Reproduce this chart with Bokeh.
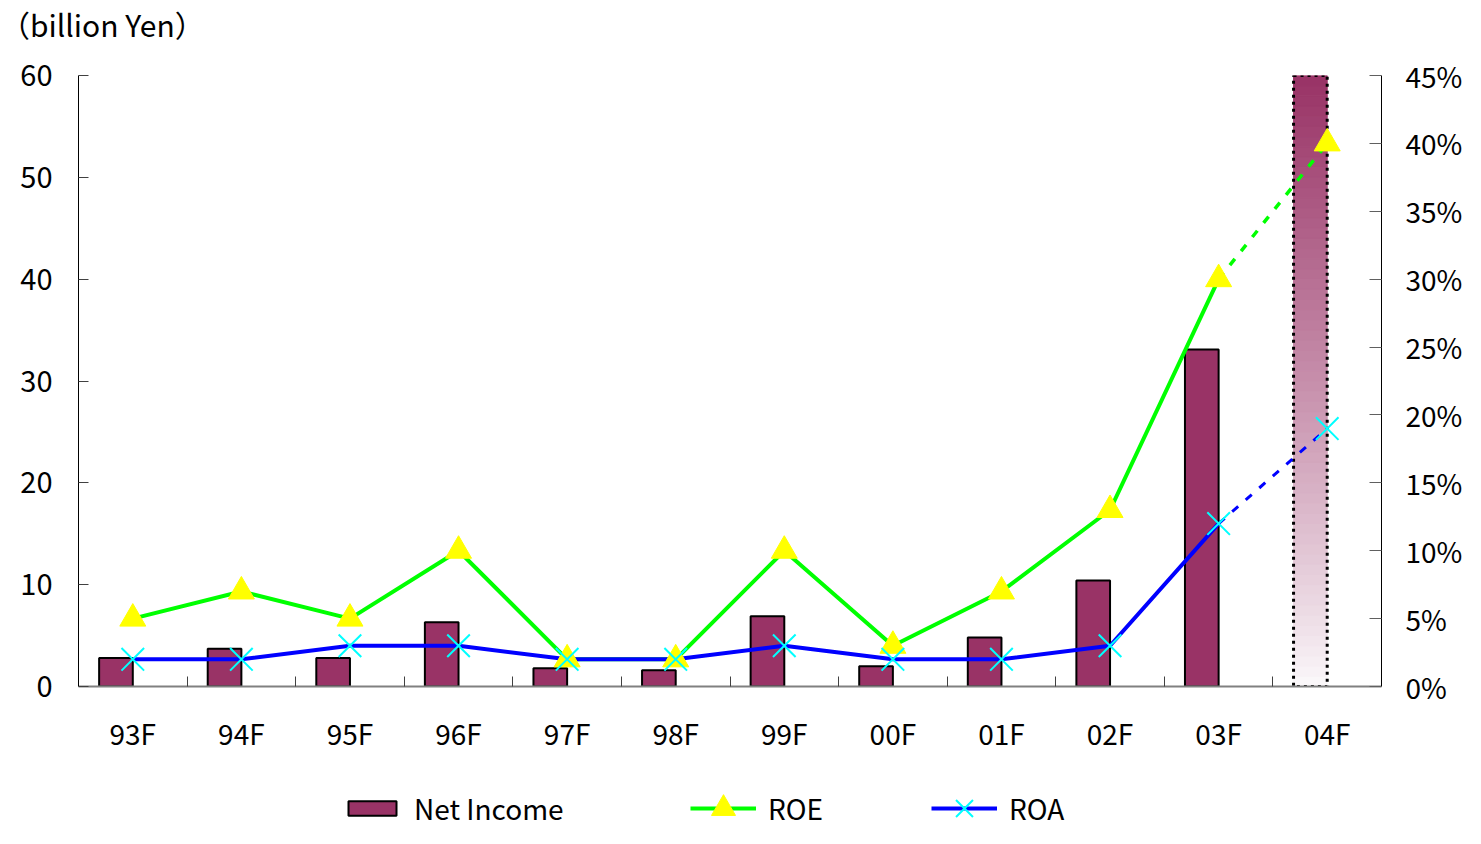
from bokeh.plotting import figure
from bokeh.layouts import column
from bokeh.models import (Range1d, LinearAxis, FixedTicker, PrintfTickFormatter,
                          Legend, LegendItem, ColumnDataSource, Div)
from bokeh.embed import file_html
from bokeh.resources import INLINE

# ---------------- data ----------------
categories = ["93F", "94F", "95F", "96F", "97F", "98F", "99F", "00F", "01F", "02F", "03F", "04F"]
net_income = [2.8, 3.7, 2.8, 6.3, 1.8, 1.6, 6.9, 2.0, 4.8, 10.4, 33.1, 60.0]   # billion Yen
roe = [5, 7, 5, 10, 2, 2, 10, 3, 7, 13, 30, 40]                                  # %
roa = [2, 2, 3, 3, 2, 2, 3, 2, 2, 3, 12, 19]                                     # %
left_ticks = [0, 10, 20, 30, 40, 50, 60]
right_ticks = [0, 5, 10, 15, 20, 25, 30, 35, 40, 45]
unit_label = "（billion Yen）"

FONT = "Noto Sans CJK JP"
BAR_COLOR = "#993366"
ROE_COLOR, ROE_MARK = "#00ff00", "#ffff00"
ROA_COLOR, ROA_MARK = "#0000ff", "#00ffff"
n = len(categories)
idx = list(range(n))
last = n - 1            # forecast year

W = 1465
H_TOP = 50
H_MAIN = 706
H_LEG = 828 - H_TOP - H_MAIN
FRAME_LEFT = 78

# ---------------- unit label ----------------
top = Div(text=unit_label, width=W, height=H_TOP, margin=0,
          styles={"font-family": FONT, "font-size": "30px", "line-height": "%dpx" % (H_TOP - 2),
                  "padding-left": "0px", "color": "black", "white-space": "nowrap"})

# ---------------- main chart ----------------
p = figure(width=W, height=H_MAIN, output_backend="svg", toolbar_location=None, title=None,
           x_range=Range1d(-0.5, n - 0.5), y_range=Range1d(0, 60),
           min_border_left=FRAME_LEFT, min_border_right=80, min_border_top=25, min_border_bottom=70,
           background_fill_color="white", border_fill_color="white")
p.outline_line_color = None
p.xgrid.visible = False
p.ygrid.visible = False
p.extra_y_ranges = {"pct": Range1d(0, 45)}

# bars (bar's right edge sits on the category centre)
bw = 0.31
bar_x = [i - bw / 2 for i in idx]
actual = ColumnDataSource(dict(x=bar_x[:last], top=net_income[:last]))
p.vbar(x="x", top="top", width=bw, bottom=0, source=actual,
       fill_color=BAR_COLOR, line_color="black", line_width=2)

# forecast bar: vertical gradient fill + dotted outline
nseg = 60
top_rgb = (153, 51, 102)
bot_rgb = (252, 250, 252)
seg_b, seg_t, seg_c = [], [], []
v = net_income[last]
for k in range(nseg):
    f = ((k + 0.5) / nseg) ** 0.9
    r = int(bot_rgb[0] + (top_rgb[0] - bot_rgb[0]) * f)
    g = int(bot_rgb[1] + (top_rgb[1] - bot_rgb[1]) * f)
    bl = int(bot_rgb[2] + (top_rgb[2] - bot_rgb[2]) * f)
    seg_b.append(v * k / nseg)
    seg_t.append(v * (k + 1) / nseg)
    seg_c.append("#%02x%02x%02x" % (r, g, bl))
p.quad(left=[bar_x[last] - bw / 2] * nseg, right=[bar_x[last] + bw / 2] * nseg,
       bottom=seg_b, top=seg_t, fill_color=seg_c, line_color=seg_c, line_width=1)
p.vbar(x=[bar_x[last]], top=[v], width=bw, bottom=0, fill_alpha=0,
       line_color="black", line_width=3, line_dash="3 4")

# lines (solid for actuals, dashed into the forecast year)
p.line(idx[:last], roe[:last], y_range_name="pct", line_color=ROE_COLOR, line_width=4)
p.line(idx[last - 1:], roe[last - 1:], y_range_name="pct", line_color=ROE_COLOR,
       line_width=3.5, line_dash="8 10")
p.line(idx[:last], roa[:last], y_range_name="pct", line_color=ROA_COLOR, line_width=4)
p.line(idx[last - 1:], roa[last - 1:], y_range_name="pct", line_color=ROA_COLOR,
       line_width=3, line_dash="8 10")
p.scatter(idx, roe, y_range_name="pct", marker="triangle", size=26,
          fill_color=ROE_MARK, line_color=ROE_MARK)
p.scatter(idx, roa, y_range_name="pct", marker="x", size=32,
          line_color=ROA_MARK, line_width=2)

# axes
xa = p.xaxis[0]
xa.ticker = FixedTicker(ticks=idx, minor_ticks=[i + 0.5 for i in idx[:-1]])
xa.major_label_overrides = {i: c for i, c in enumerate(categories)}
xa.major_tick_in = 0
xa.major_tick_out = 0
xa.minor_tick_in = 10
xa.minor_tick_out = 0
xa.minor_tick_line_color = "#404040"
xa.axis_line_color = "#808080"
xa.axis_line_width = 2
xa.major_label_standoff = 26
xa.major_label_text_font = FONT
xa.major_label_text_font_size = "28px"
xa.major_label_text_color = "black"

ya = p.yaxis[0]
ya.ticker = FixedTicker(ticks=left_ticks, minor_ticks=[])
ya.major_tick_in = 10
ya.major_tick_out = 0
ya.major_tick_line_color = "#404040"
ya.axis_line_color = "black"
ya.axis_line_width = 1
ya.major_label_standoff = 26
ya.major_label_text_font = FONT
ya.major_label_text_font_size = "29px"
ya.major_label_text_color = "black"

ra = LinearAxis(y_range_name="pct", ticker=FixedTicker(ticks=right_ticks, minor_ticks=[]),
                formatter=PrintfTickFormatter(format="%d%%"))
ra.major_tick_in = 12
ra.major_tick_out = 0
ra.major_tick_line_color = "#606060"
ra.axis_line_color = "black"
ra.axis_line_width = 1
ra.major_label_standoff = 24
ra.major_label_text_font = FONT
ra.major_label_text_font_size = "28px"
ra.major_label_text_color = "black"
p.add_layout(ra, "right")

# ---------------- legend strip (frame is aligned with the chart frame) ----------------
q = figure(width=W, height=H_LEG, output_backend="svg", toolbar_location=None,
           x_range=Range1d(0, 1), y_range=Range1d(0, 1), min_border=0,
           x_axis_location=None, y_axis_location=None,
           background_fill_color="white", border_fill_color="white")
q.outline_line_color = None
q.grid.visible = False
nan = [float("nan")]   # legend proxies: one undrawable point each
lg_bar = q.vbar(x=nan, top=nan, width=0.1, fill_color=BAR_COLOR, line_color="black", line_width=2)
lg_roe_l = q.line(x=nan, y=nan, line_color=ROE_COLOR, line_width=4)
lg_roe_m = q.scatter(x=nan, y=nan, marker="triangle", fill_color=ROE_MARK, line_color=ROE_MARK)
lg_roa_l = q.line(x=nan, y=nan, line_color=ROA_COLOR, line_width=4)
lg_roa_m = q.scatter(x=nan, y=nan, marker="x", line_color=ROA_MARK, line_width=2)

common = dict(orientation="horizontal", label_standoff=12, spacing=108,
              label_text_font=FONT, label_text_font_size="28px", label_text_color="black",
              border_line_color=None, background_fill_alpha=0, padding=0, margin=0)
leg1 = Legend(items=[LegendItem(label="Net Income", renderers=[lg_bar])],
              location=(264, 0), glyph_width=60, glyph_height=18, **common)
leg2 = Legend(items=[LegendItem(label="ROE", renderers=[lg_roe_l, lg_roe_m]),
                     LegendItem(label="ROA", renderers=[lg_roa_l, lg_roa_m])],
              location=(612, -10), glyph_width=66, glyph_height=60, **common)
q.add_layout(leg1, "center")
q.add_layout(leg2, "center")

layout = column(top, p, q, spacing=0)
open("out.html", "w").write(file_html(layout, INLINE))
